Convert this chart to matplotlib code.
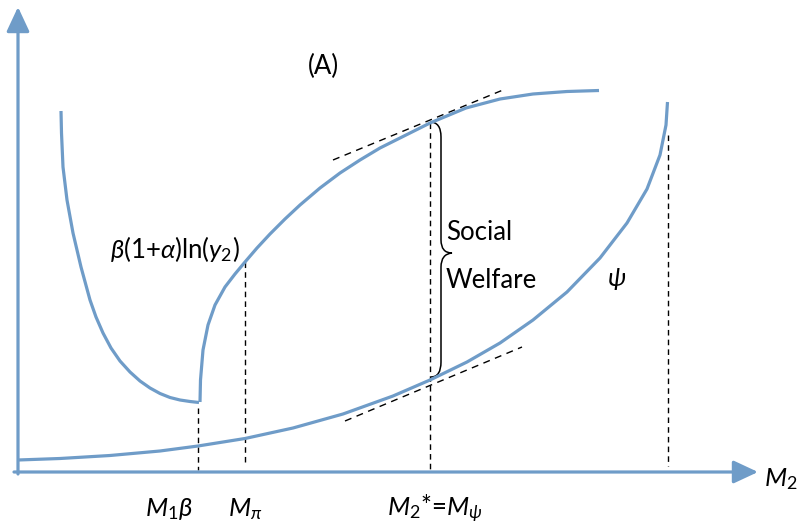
import matplotlib
matplotlib.use("Agg")
import matplotlib.pyplot as plt
from matplotlib.path import Path
from matplotlib.patches import PathPatch

plt.rcParams['font.family'] = ['Lato', 'DejaVu Sans']
plt.rcParams['mathtext.fontset'] = 'custom'
plt.rcParams['mathtext.rm'] = 'Lato'
plt.rcParams['mathtext.it'] = 'Lato:italic'
plt.rcParams['mathtext.bf'] = 'Lato:bold'

BLUE = '#6f9cc8'

# curves (pixel space, y grows downward)
psi_x = [18, 60, 110, 160, 198, 245, 293, 343, 393, 430, 467, 500, 533, 567, 600, 627, 647, 660, 666, 667.5]
psi_y = [460, 458.5, 455.5, 451, 446, 438.5, 428, 414, 396, 380, 362, 343, 320, 292, 258, 223, 189, 155, 125, 102]

u_x = [61, 61.5, 63, 67, 73, 81, 90, 96, 103, 111, 120, 130, 140, 150, 160, 170, 180, 190, 199]
u_y = [111, 133, 167, 200, 233, 267, 300, 317, 333, 348, 361, 372, 381, 388, 393.5, 397.5, 400, 401.5, 402.5]

ln_x = [200, 200.5, 203, 208, 215, 225, 235, 245, 257, 270, 285, 300, 320, 340, 360, 380, 400,
        430, 466, 500, 533, 567, 599]
ln_y = [402, 380, 350, 325, 305, 287, 274, 262, 248, 234, 219, 205, 188, 173, 160, 148, 138,
        123, 108, 99, 94, 91.5, 90.5]

# tangent lines and guide lines
tan_top = ([333, 503], [160, 90])
tan_bot = ([345, 522], [421, 347])
guides_x = [198, 245, 430, 668]
guides_top = [408, 262, 123, 135]
guides_bot = [470, 464, 470, 466]

fig = plt.figure(figsize=(7.99, 5.29), dpi=100)
ax = fig.add_axes([0, 0, 1, 1])
ax.set_xlim(0, 799)
ax.set_ylim(529, 0)
ax.axis('off')

# axes with arrows
arrow = dict(arrowstyle='-|>,head_length=0.75,head_width=0.35', color=BLUE, lw=2.3,
             mutation_scale=20, shrinkA=0, shrinkB=0)
ax.annotate('', xy=(758, 472), xytext=(14, 472), arrowprops=arrow)
ax.annotate('', xy=(18, 7), xytext=(18, 474), arrowprops=arrow)

for gx, gt, gb in zip(guides_x, guides_top, guides_bot):
    ax.plot([gx, gx], [gt, gb], color='black', lw=1, ls=(0, (4, 3)))
ax.plot(*tan_top, color='black', lw=1, ls=(0, (5, 4)))
ax.plot(*tan_bot, color='black', lw=1, ls=(0, (5, 4)))

for xs, ys in [(psi_x, psi_y), (u_x, u_y), (ln_x, ln_y)]:
    ax.plot(xs, ys, color=BLUE, lw=2.3, solid_capstyle='butt', solid_joinstyle='round')

# brace
verts = [(430, 122), (441, 122), (441, 137), (441, 240), (441, 253), (452, 253),
         (441, 254), (441, 267), (441, 362), (441, 377), (431, 377)]
codes = [Path.MOVETO, Path.CURVE3, Path.CURVE3, Path.LINETO, Path.CURVE3, Path.CURVE3,
         Path.CURVE3, Path.CURVE3, Path.LINETO, Path.CURVE3, Path.CURVE3]
ax.add_patch(PathPatch(Path(verts, codes), fill=False, lw=1.1, color='black'))

fs = 18.5
ax.text(323, 66, '(A)', fontsize=fs, ha='center', va='center')
ax.text(446, 233, 'Social', fontsize=fs, ha='left', va='center')
ax.text(446, 281, 'Welfare', fontsize=fs, ha='left', va='center')
ax.text(175, 249, r'$\beta$(1+$\alpha$)ln($y_2$)', fontsize=fs, ha='center', va='center')
ax.text(617, 279, r'$\psi$', fontsize=fs, ha='center', va='center')
ax.text(169, 509, r'$M_1\beta$', fontsize=fs, ha='center', va='center')
ax.text(245, 509, r'$M_\pi$', fontsize=fs, ha='center', va='center')
ax.text(435, 509, r'$M_2$*=$M_\psi$', fontsize=fs, ha='center', va='center')
ax.text(781, 479, r'$M_2$', fontsize=fs, ha='center', va='center')

fig.savefig('out.png', dpi=100)
